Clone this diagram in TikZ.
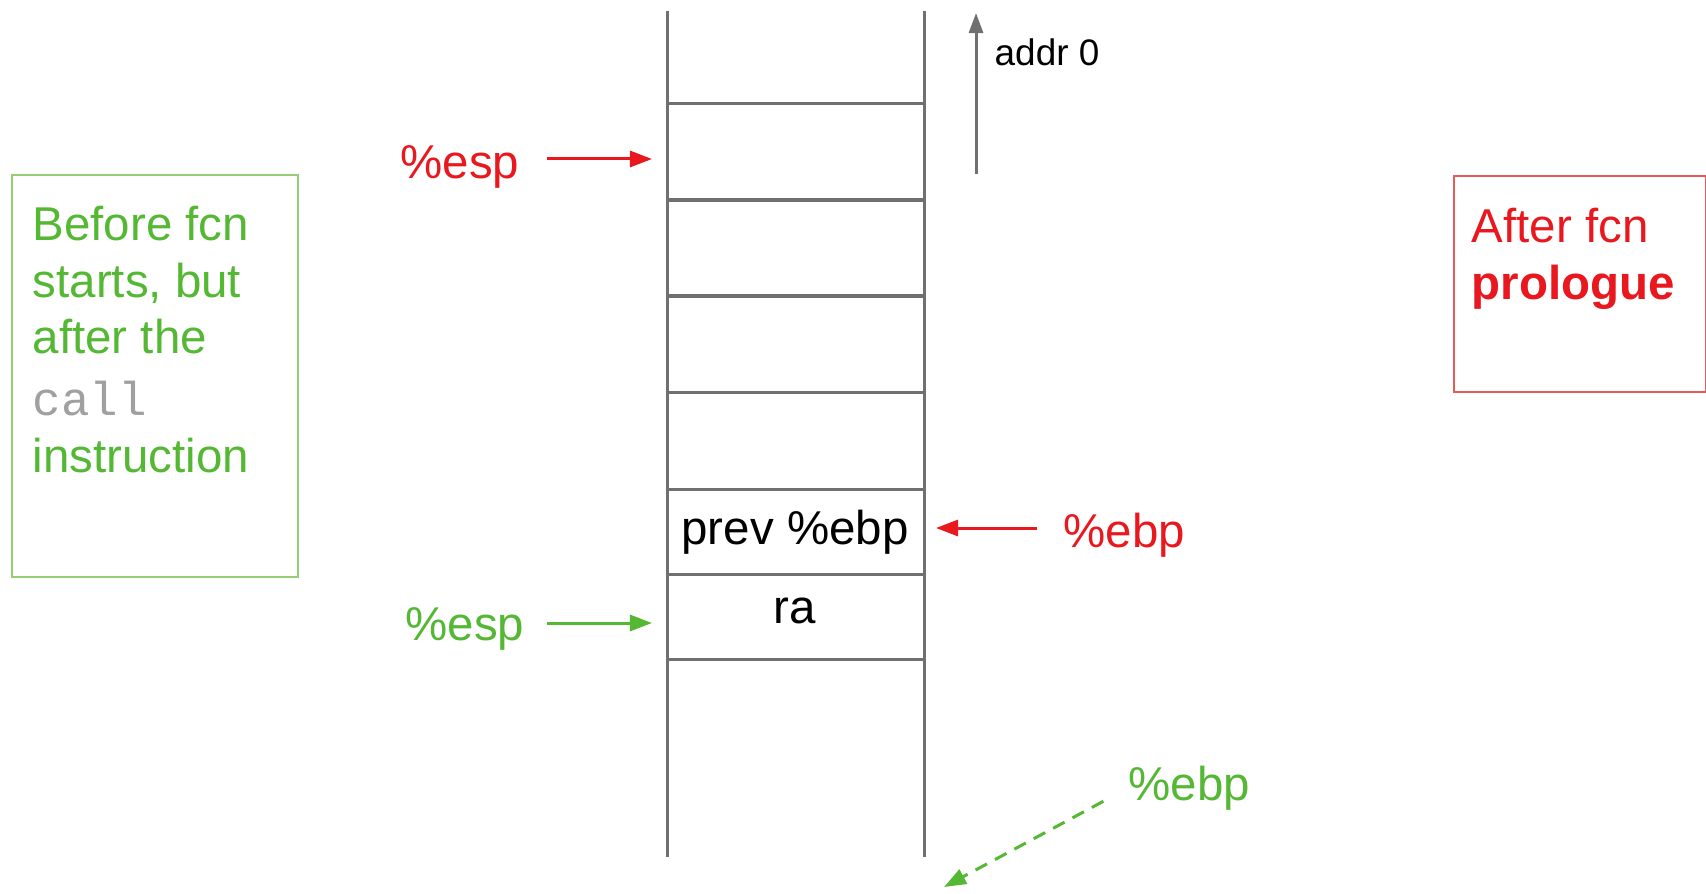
\documentclass[tikz,border=0pt]{standalone}
\usepackage{fontspec}
\setmainfont{Liberation Sans}
\setmonofont{Liberation Mono}
\usetikzlibrary{arrows.meta}

\definecolor{regred}{RGB}{232,24,30}
\definecolor{reggreen}{RGB}{84,184,52}
\definecolor{boxgreen}{RGB}{150,205,120}
\definecolor{boxred}{RGB}{232,90,90}
\definecolor{stackgray}{RGB}{112,112,112}
\definecolor{codegray}{RGB}{160,160,160}

\tikzset{
  txt/.style={inner sep=0pt, font=\fontsize{13.5}{16.2}\selectfont},
  smalltxt/.style={inner sep=0pt, font=\fontsize{10.5}{12.6}\selectfont},
  stackline/.style={draw=stackgray, line width=0.03cm},
  ptr/.style={line width=0.03cm, -{Triangle[length=0.22cm,width=0.16cm]}},
  frame/.style={draw, line width=0.022cm, inner sep=0pt, anchor=north west},
}

\begin{document}
\begin{tikzpicture}[x=0.01cm, y=-0.01cm]
  \useasboundingbox (0,0) rectangle (1706,894);

  % stack walls and slot separators
  \draw[stackline] (667,11) -- (667,857);
  \draw[stackline] (924,11) -- (924,857);
  \foreach \yy in {104,200,296,392,489,574,659}
    \draw[stackline] (667,\yy) -- (924,\yy);

  % slot contents
  \node[txt] (prevebp) at (795,532) {prev \%ebp};
  \node[txt] (ra) at (795,611) {ra};

  % direction of lower addresses
  \coordinate (addrfoot) at (976,174);
  \coordinate (addrtop) at (976,13);
  \draw[ptr, draw=stackgray, -{Triangle[length=0.2cm,width=0.14cm]}] (addrfoot) -- (addrtop);
  \node[smalltxt, anchor=west] (addr) at (994,52) {addr 0};

  % register pointers
  \coordinate (esprtip) at (652,159);
  \coordinate (espgtip) at (652,623);
  \coordinate (ebprtip) at (936,528);
  \coordinate (ebpgtip) at (944,887);

  \node[txt, text=regred, anchor=east] (espr) at (520,167) {\%esp};
  \draw[ptr, regred, shorten <=0.27cm] (espr.east |- esprtip) -- (esprtip);

  \node[txt, text=reggreen, anchor=east] (espg) at (525,629) {\%esp};
  \draw[ptr, reggreen, shorten <=0.22cm] (espg.east |- espgtip) -- (espgtip);

  \node[txt, text=regred, anchor=west] (ebpr) at (1063,535) {\%ebp};
  \draw[ptr, regred, shorten <=0.26cm] (ebpr.west |- ebprtip) -- (ebprtip);

  \node[txt, text=reggreen, anchor=west] (ebpg) at (1128,788) {\%ebp};
  \draw[ptr, reggreen, dash pattern=on 0.13cm off 0.09cm, shorten <=0.28cm] (ebpg.west) -- (ebpgtip);

  % captions
  \node[frame, draw=boxgreen, minimum width=2.86cm, minimum height=4.02cm] (beforebox) at (11,174) {};
  \node[txt, text=reggreen, anchor=north west, align=left] (beforetxt) at (32,205)
    {Before fcn\\starts, but\\after the\\[1.3pt]{\ttfamily\color{codegray}call}\\instruction};

  \node[frame, draw=boxred, minimum width=2.52cm, minimum height=2.16cm] (afterbox) at (1453,175) {};
  \node[txt, text=regred, anchor=north west, align=left] (aftertxt) at (1471,207)
    {After fcn\\\textbf{prologue}};
\end{tikzpicture}
\end{document}
